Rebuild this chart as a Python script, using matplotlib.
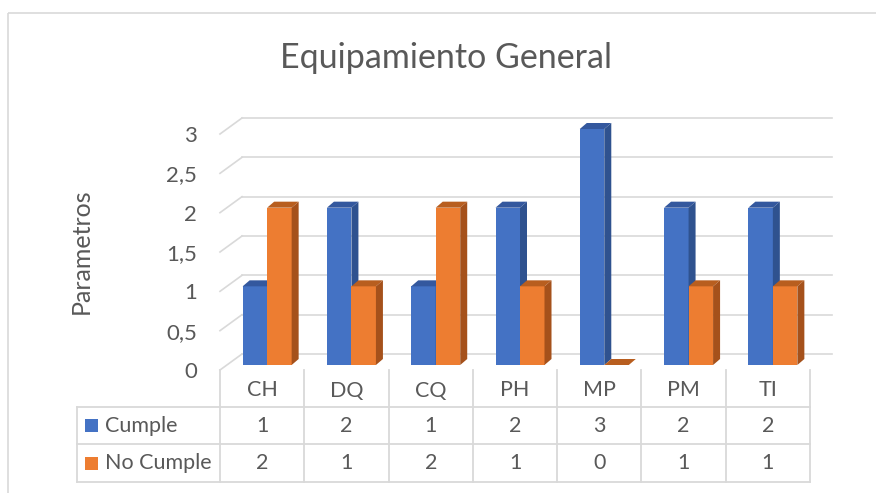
import matplotlib
matplotlib.use('Agg')
import matplotlib.pyplot as plt
import matplotlib.transforms as mtransforms
from matplotlib.patches import Polygon, Rectangle
from matplotlib.lines import Line2D

# ---- data ----
categories = ['CH', 'DQ', 'CQ', 'PH', 'MP', 'PM', 'TI']
cumple = [1, 2, 1, 2, 3, 2, 2]
no_cumple = [2, 1, 2, 1, 0, 1, 1]
series_names = ['Cumple', 'No Cumple']
yticks = [0, 0.5, 1, 1.5, 2, 2.5, 3]
ytick_labels = ['0', '0,5', '1', '1,5', '2', '2,5', '3']
title = 'Equipamiento General'
ylabel = 'Parametros'

# ---- style ----
FONT = ['Lato', 'DejaVu Sans']
plt.rcParams['font.family'] = FONT
TXT = '#595959'
GRID = '#D9D9D9'
front_cols = ['#4472C4', '#ED7D31']
side_cols = ['#2F528F', '#A5511B']
top_cols = ['#34589E', '#B85E1F']

W, H = 876, 493
fig = plt.figure(figsize=(W / 100, H / 100), dpi=100)
pix = mtransforms.Affine2D().scale(1.0 / W, -1.0 / H).translate(0, 1) + fig.transFigure

def fx(px):
    return px / W

def fy(py):
    return 1 - py / H

# chart border (top/left visible)
fig.patches.append(Rectangle((8, 13), 900, 520, transform=pix, fill=False,
                             edgecolor=GRID, lw=1.2, figure=fig))

# plot area (front plane): x -0.5..6.5 -> px 220..810 ; y 0..3 -> px 370..134
ax = fig.add_axes([fx(220), fy(370), fx(810) - fx(220), fy(134) - fy(370)])
n = len(categories)
ax.set_xlim(-0.5, n - 0.5)
ax.set_ylim(0, 3)
ax.axis('off')

cu = 590.0 / 7   # px per category unit
vu = 236.0 / 3   # px per value unit
wall_dx, wall_dy = 22 / cu, 16 / vu
bar_sx, bar_sy = 5 / cu, 5 / vu
bar_dx, bar_dy = 7 / cu, 6 / vu
bw = 24.5 / cu

# back wall gridlines + side wall diagonals
for v in yticks:
    ax.add_line(Line2D([-0.5 + wall_dx, n - 0.5 + wall_dx], [v + wall_dy, v + wall_dy],
                       color=GRID, lw=1.2, zorder=1, clip_on=False))
    ax.add_line(Line2D([-0.5, -0.5 + wall_dx], [v, v + wall_dy],
                       color=GRID, lw=1.2, zorder=1, clip_on=False))

# y tick labels
off = mtransforms.offset_copy(ax.transData, fig=fig, x=-23, y=-2, units='dots')
for v, lab in zip(yticks, ytick_labels):
    ax.text(-0.5, v, lab, transform=off, ha='right', va='center',
            fontsize=16, color=TXT)

# 3D bars
series = [cumple, no_cumple]
for i in range(n):
    c = i + bar_sx
    for s, vals in enumerate(series):
        v = vals[i]
        x0 = c - bw if s == 0 else c
        x1 = x0 + bw
        b = bar_sy
        z = 3 + s + i * 2
        ax.bar(x0, v, width=bw, bottom=b, align='edge', color=front_cols[s],
               edgecolor='none', zorder=z, clip_on=False)
        ax.add_patch(Polygon([(x0, v + b), (x1, v + b), (x1 + bar_dx, v + b + bar_dy),
                              (x0 + bar_dx, v + b + bar_dy)], closed=True,
                             facecolor=top_cols[s], edgecolor='none', zorder=z, clip_on=False))
        ax.add_patch(Polygon([(x1, b), (x1, v + b), (x1 + bar_dx, v + b + bar_dy),
                              (x1 + bar_dx, b + bar_dy)], closed=True,
                             facecolor=side_cols[s], edgecolor='none', zorder=z, clip_on=False))

# data table
tbl = mtransforms.blended_transform_factory(ax.transData, pix)
row_y = [370, 407, 444, 482]
left_px = 77
for k in range(n + 1):
    ax.add_line(Line2D([k - 0.5, k - 0.5], [row_y[0], row_y[-1]], transform=tbl,
                       color=GRID, lw=1.3, clip_on=False))
ax.add_line(Line2D([left_px, left_px], [row_y[1], row_y[-1]], transform=pix,
                   color=GRID, lw=1.3, clip_on=False))
for yy in row_y[1:]:
    ax.add_line(Line2D([left_px, 810], [yy, yy], transform=pix,
                       color=GRID, lw=1.3, clip_on=False))

for i, cat in enumerate(categories):
    ax.text(i, (row_y[0] + row_y[1]) / 2 + 2, cat, transform=tbl, ha='center', va='center',
            fontsize=15.5, color=TXT)
    for r, vals in enumerate(series):
        ax.text(i, (row_y[r + 1] + row_y[r + 2]) / 2, str(vals[i]), transform=tbl,
                ha='center', va='center', fontsize=15.5, color=TXT)

for r, name in enumerate(series_names):
    yc = (row_y[r + 1] + row_y[r + 2]) / 2
    fig.patches.append(Rectangle((85, yc - 6.5), 13, 13, transform=pix,
                                 facecolor=front_cols[r], edgecolor='none', figure=fig))
    fig.text(fx(105), fy(yc), name, ha='left', va='center', fontsize=15.5, color=TXT)

# title and axis label
fig.text(fx(446), fy(58), title, ha='center', va='center', fontsize=24.5, color=TXT)
fig.text(fx(81), fy(251), ylabel, rotation=90, ha='center', va='center',
         fontsize=18, color=TXT)

fig.savefig('out.png', dpi=100, facecolor='white')
